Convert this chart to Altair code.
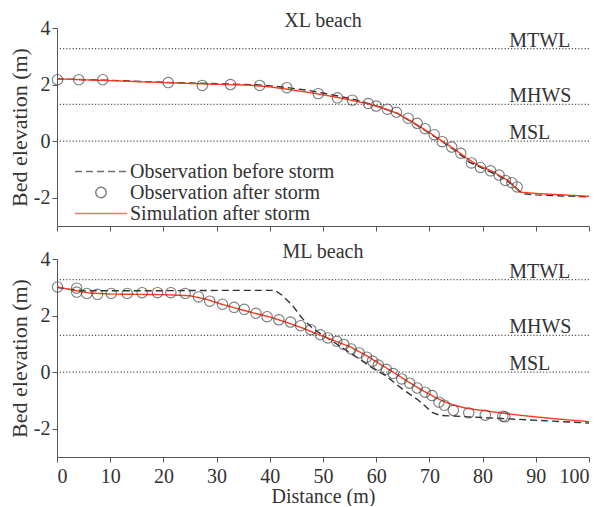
import altair as alt
import pandas as pd

SERIES = ["Observation before storm", "Observation after storm", "Simulation after storm"]
LEVEL_NAMES = ["MTWL", "MHWS", "MSL"]
LEVEL_VALUES = [3.27, 1.3, 0.0]
X_TICKS = [0, 10, 20, 30, 40, 50, 60, 70, 80, 90, 100]
Y_TICKS = [-2, 0, 2, 4]

# ---------------- XL beach ----------------
xl_before_x = [0, 10, 20, 30, 38, 43, 47, 50, 53, 56, 58, 61, 64, 67, 70, 72.5, 75, 77.5, 80, 83, 85.5, 87.5, 90, 100]
xl_before_y = [2.2, 2.15, 2.08, 2.03, 1.99, 1.9, 1.8, 1.7, 1.59, 1.47, 1.36, 1.19, 0.98, 0.64, 0.28, -0.03, -0.35, -0.74, -0.96, -1.22, -1.52, -1.86, -1.9, -1.97]
xl_after_x = [0.1, 4.1, 8.6, 20.9, 27.3, 32.6, 38.1, 43.2, 49.1, 52.7, 55.5, 58.5, 60.0, 62.1, 63.8, 66.0, 67.7, 69.2, 70.9, 72.4, 74.2, 75.9, 77.9, 79.6, 81.5, 83.1, 84.3, 85.5, 86.5]
xl_after_y = [2.17, 2.17, 2.17, 2.07, 1.97, 2.0, 1.97, 1.89, 1.68, 1.53, 1.45, 1.33, 1.24, 1.13, 1.02, 0.81, 0.63, 0.44, 0.23, -0.02, -0.21, -0.43, -0.77, -0.93, -1.05, -1.2, -1.39, -1.47, -1.62]
xl_sim_x = [0, 10, 20, 30, 36, 40, 45, 50, 55, 58, 61, 64, 67, 70, 72.5, 75, 77, 79, 82, 85, 87, 90, 95, 100]
xl_sim_y = [2.2, 2.14, 2.07, 2.01, 1.98, 1.92, 1.79, 1.64, 1.46, 1.34, 1.18, 0.98, 0.66, 0.3, -0.01, -0.32, -0.6, -0.84, -1.08, -1.42, -1.8, -1.85, -1.9, -1.95]

# ---------------- ML beach ----------------
ml_before_x = [0, 2, 5, 20, 30, 41, 42.3, 44.2, 46.1, 48, 49.5, 51.8, 55.5, 59.2, 61.8, 64.9, 68, 70.5, 72, 77.4, 86.8, 100]
ml_before_y = [3.0, 2.93, 2.88, 2.88, 2.89, 2.89, 2.72, 2.37, 1.9, 1.56, 1.36, 1.09, 0.63, 0.16, -0.13, -0.59, -1.0, -1.42, -1.53, -1.58, -1.67, -1.8]
ml_after_x = [0.1, 3.7, 3.7, 5.6, 7.6, 10.2, 13.2, 16.0, 18.9, 21.4, 24.1, 26.6, 28.7, 31.1, 33.3, 35.2, 37.4, 39.5, 41.7, 43.9, 45.8, 47.7, 49.5, 50.9, 52.6, 53.9, 55.3, 56.8, 58.2, 59.3, 60.4, 61.9, 63.2, 64.8, 66.3, 67.7, 69.2, 70.5, 71.8, 72.8, 74.5, 77.4, 80.5, 83.8, 84.2]
ml_after_y = [3.01, 2.97, 2.83, 2.78, 2.75, 2.78, 2.78, 2.81, 2.81, 2.81, 2.78, 2.66, 2.51, 2.40, 2.29, 2.22, 2.08, 1.96, 1.85, 1.77, 1.64, 1.50, 1.32, 1.21, 1.09, 0.98, 0.82, 0.68, 0.53, 0.39, 0.25, 0.10, -0.05, -0.24, -0.39, -0.56, -0.71, -0.83, -1.06, -1.17, -1.35, -1.44, -1.52, -1.56, -1.58]
ml_sim_x = [0, 3, 6, 10, 15, 20, 25, 28, 31, 34, 37, 40, 43, 46, 49.3, 52, 55.3, 58, 60.6, 63, 66.2, 69, 71, 72.5, 74.3, 77, 80.6, 86.8, 93.1, 100]
ml_sim_y = [3.02, 2.9, 2.8, 2.76, 2.75, 2.74, 2.7, 2.58, 2.4, 2.24, 2.09, 1.95, 1.77, 1.57, 1.32, 1.12, 0.88, 0.6, 0.3, 0.02, -0.36, -0.68, -0.88, -1.02, -1.15, -1.28, -1.37, -1.52, -1.64, -1.75]

FONT = "Liberation Serif"
TXT = "#333333"
W, H = 532, 198
SYM = 2700  # legend symbol box (stroke length ~52px)
SMALL_CIRCLE = "M-0.2,0A0.2,0.2,0,1,1,0.2,0A0.2,0.2,0,1,1,-0.2,0Z"


def panel(title, bx, by, ax, ay, sx, sy, bottom):
    lines = pd.DataFrame({
        "x": bx + sx,
        "y": by + sy,
        "series": [SERIES[0]] * len(bx) + [SERIES[2]] * len(sx),
    })
    pts = pd.DataFrame({"x": ax, "y": ay, "series": [SERIES[1]] * len(ax)})
    levels = pd.DataFrame({"name": LEVEL_NAMES, "level": LEVEL_VALUES})

    show_legend = not bottom
    leg = alt.Legend(
        title=None, orient="none", legendX=17, legendY=134, padding=0,
        labelFont=FONT, labelFontSize=20, labelColor=TXT, labelOffset=2, labelLimit=400,
        rowPadding=0, clipHeight=19, symbolStrokeWidth=1.4, symbolSize=SYM,
    ) if show_legend else None

    def lg(l):
        return l if show_legend else None

    xenc = alt.X(
        "x:Q",
        scale=alt.Scale(domain=[0, 100], nice=False),
        axis=alt.Axis(values=X_TICKS, labels=bottom, title="Distance (m)" if bottom else None,
                      labelFont=FONT, titleFont=FONT, labelPadding=4, titlePadding=0),
    )
    yenc = alt.Y(
        "y:Q",
        scale=alt.Scale(domain=[-3, 4], nice=False),
        axis=alt.Axis(values=Y_TICKS, title="Bed elevation (m)", labelExpr="'' + datum.value",
                      labelFont=FONT, titleFont=FONT),
    )

    color = alt.Color("series:N", scale=alt.Scale(domain=SERIES, range=["#333333", "#444444", "#ff3a1e"]), legend=lg(leg))
    dash = alt.StrokeDash("series:N", scale=alt.Scale(domain=SERIES, range=[[7, 4], [1, 0], [1, 0]]), legend=lg(leg))
    shape = alt.Shape("series:N", scale=alt.Scale(domain=SERIES, range=["stroke", SMALL_CIRCLE, "stroke"]), legend=lg(leg))

    rules = alt.Chart(levels).mark_rule(color="#555555", strokeDash=[1.2, 2], strokeWidth=1.3).encode(
        y=alt.Y("level:Q", scale=alt.Scale(domain=[-3, 4], nice=False))
    )
    labels = alt.Chart(levels).mark_text(
        align="left", baseline="alphabetic", dy=-2, font=FONT, fontSize=20, color=TXT
    ).encode(
        x=alt.datum(85),
        y=alt.Y("level:Q"),
        text="name:N",
    )
    line_layer = alt.Chart(lines).mark_line(strokeWidth=1.4).encode(
        x=xenc, y=yenc, color=color, strokeDash=dash, order="x:Q"
    )
    point_layer = alt.Chart(pts).mark_point(filled=False, strokeWidth=1.1, size=SYM).encode(
        x="x:Q", y="y:Q", color=color, shape=shape
    )
    return alt.layer(rules, labels, line_layer, point_layer).properties(
        width=W, height=H,
        title=alt.TitleParams(title, font=FONT, fontSize=20, fontWeight="normal", color=TXT,
                              frame="group", offset=-13),
    )


top = panel("XL beach", xl_before_x, xl_before_y, xl_after_x, xl_after_y, xl_sim_x, xl_sim_y, False)
bot = panel("ML beach", ml_before_x, ml_before_y, ml_after_x, ml_after_y, ml_sim_x, ml_sim_y, True)

chart = alt.vconcat(top, bot, spacing=10).resolve_scale(
    color="independent", strokeDash="independent", shape="independent"
).resolve_legend(
    color="independent", strokeDash="independent", shape="independent"
).properties(
    padding={"left": 8, "top": 11, "right": 0, "bottom": 0}
).configure_view(stroke=None).configure_axis(
    grid=False, domainColor="#555555", tickColor="#555555", labelColor=TXT, titleColor=TXT,
    labelFont=FONT, titleFont=FONT, labelFontSize=20, titleFontSize=20, titleFontWeight="normal",
    tickSize=5, labelPadding=1, titlePadding=0,
).configure_axisY(
    titleFontSize=22, titlePadding=2, labelPadding=2
)

chart.save("out.html", embed_options={"renderer": "svg", "actions": False})
